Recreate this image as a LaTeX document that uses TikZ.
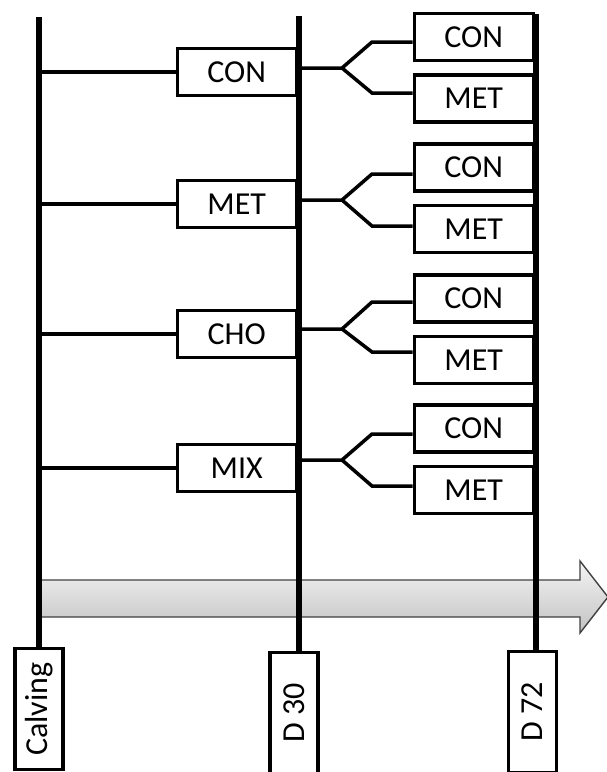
\documentclass[tikz,border=0pt]{standalone}
\usepackage{fontspec}
\setmainfont{Carlito}
\usetikzlibrary{positioning}

\begin{document}
\begin{tikzpicture}[
    x=1pt, y=-1pt,
    box/.style={draw, rectangle, line width=3.5pt, fill=white, minimum width=119pt, minimum height=47pt, inner sep=0pt, font=\fontsize{32}{38}\selectfont},
    daybox/.style={draw, rectangle, line width=3.5pt, fill=white, rotate=90, minimum width=121pt, minimum height=48pt, inner sep=0pt, font=\fontsize{32}{38}\selectfont},
    period/.style={line width=5.5pt},
    link/.style={line width=3.5pt},
    node distance=11pt
]
    \useasboundingbox (0,0) rectangle (606,772);

    % time arrow
    \draw [draw=black!75, line width=1.4pt, top color=black!4, bottom color=black!24]
        (39,580) -- (580,580) -- (580,561) -- (608,597) -- (580,633) -- (580,617) -- (39,617) -- cycle;

    % first period
    \node [box, anchor=east] (con) at (298,72) {CON};
    \node [box, anchor=east] (met) at (298,204) {MET};
    \node [box, anchor=east] (cho) at (298,334) {CHO};
    \node [box, anchor=east] (mix) at (298,468) {MIX};

    % second period
    \node [box, anchor=east] (con-con) at (535,37) {CON};
    \node [box, below=of con-con] (con-met) {MET};
    \node [box, anchor=east] (met-con) at (535,167.5) {CON};
    \node [box, below=of met-con] (met-met) {MET};
    \node [box, anchor=east] (cho-con) at (535,298.5) {CON};
    \node [box, below=of cho-con] (cho-met) {MET};
    \node [box, anchor=east] (mix-con) at (535,428.5) {CON};
    \node [box, below=of mix-con] (mix-met) {MET};

    % days
    \node [daybox] (calving) at (39,709) {Calving};
    \node [daybox] (d30) at (294,713) {D 30};
    \node [daybox] (d72) at (532.5,712) {D 72};

    \coordinate (calvtop) at (39,17);
    \coordinate (d30top) at (299,16);
    \coordinate (d72top) at (536,14);

    \draw [period] (calvtop) -- (calving.east);
    \draw [period] (d30top) -- (d30top |- d30.east);
    \draw [period] (d72top) -- (d72top |- d72.east);

    \draw [link] (con.west -| calvtop) -- (con.west);
    \draw [link] (met.west -| calvtop) -- (met.west);
    \draw [link] (cho.west -| calvtop) -- (cho.west);
    \draw [link] (mix.west -| calvtop) -- (mix.west);

    % forks
    \coordinate (fork-con) at (342,68);
    \coordinate (fork-met) at (342,200);
    \coordinate (fork-cho) at (342,329);
    \coordinate (fork-mix) at (342,460);
    \coordinate (up-con) at (372,42);
    \coordinate (up-met) at (372,174);
    \coordinate (up-cho) at (372,302);
    \coordinate (up-mix) at (372,434);
    \coordinate (lo-con) at (372,93);
    \coordinate (lo-met) at (372,226);
    \coordinate (lo-cho) at (372,352);
    \coordinate (lo-mix) at (372,486);

    \draw [link] (fork-con -| d30top) -- (fork-con) -- (up-con) -- (up-con -| con-con.west);
    \draw [link] (fork-con) -- (lo-con) -- (lo-con -| con-met.west);
    \draw [link] (fork-met -| d30top) -- (fork-met) -- (up-met) -- (up-met -| met-con.west);
    \draw [link] (fork-met) -- (lo-met) -- (lo-met -| met-met.west);
    \draw [link] (fork-cho -| d30top) -- (fork-cho) -- (up-cho) -- (up-cho -| cho-con.west);
    \draw [link] (fork-cho) -- (lo-cho) -- (lo-cho -| cho-met.west);
    \draw [link] (fork-mix -| d30top) -- (fork-mix) -- (up-mix) -- (up-mix -| mix-con.west);
    \draw [link] (fork-mix) -- (lo-mix) -- (lo-mix -| mix-met.west);

\end{tikzpicture}
\end{document}
